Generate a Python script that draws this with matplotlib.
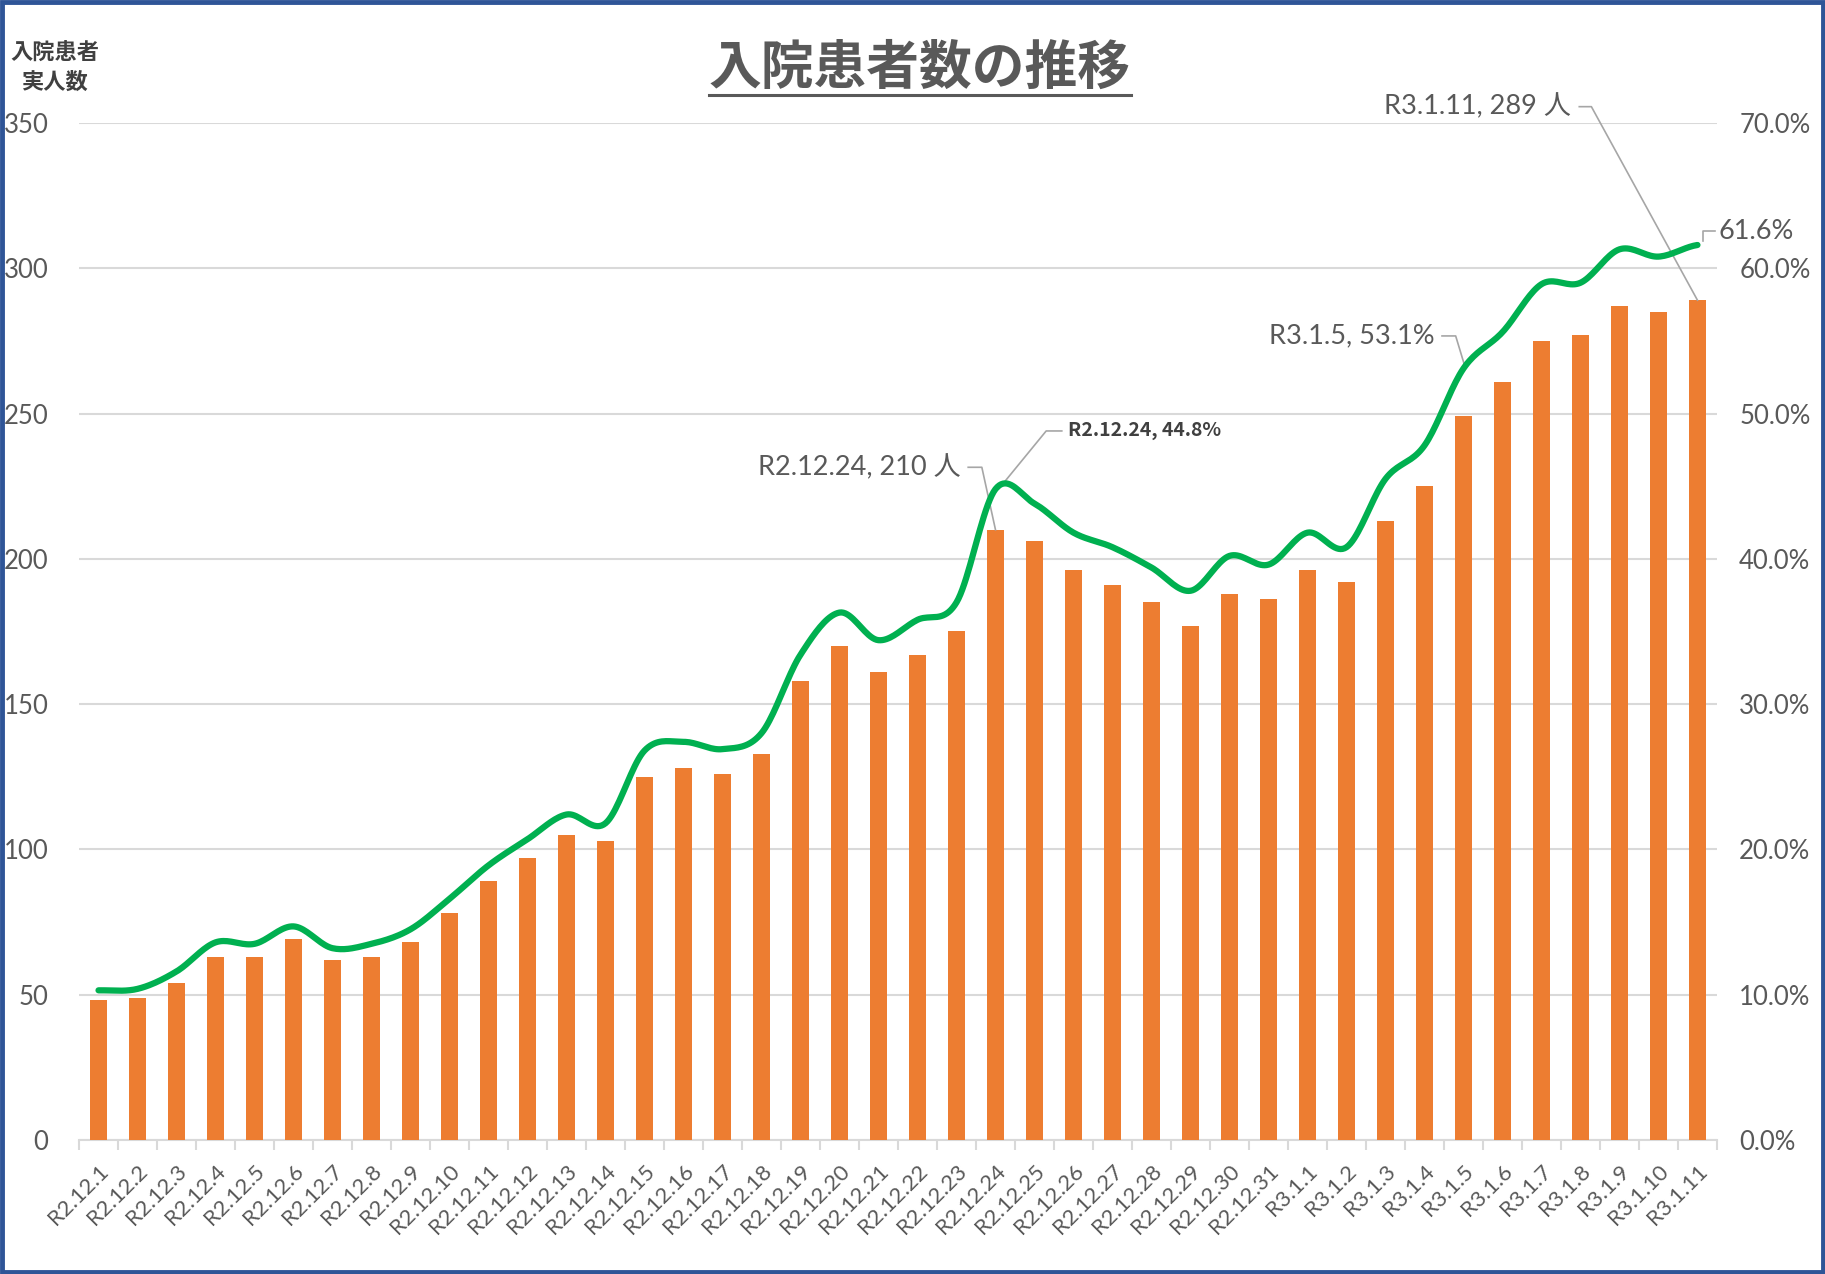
import numpy as np
import matplotlib
matplotlib.use("Agg")
import matplotlib.pyplot as plt
from matplotlib.ticker import PercentFormatter
from matplotlib.patches import Rectangle
from matplotlib.lines import Line2D

# data
dates = ["R2.12.%d" % d for d in range(1, 32)] + ["R3.1.%d" % d for d in range(1, 12)]
patients = [48, 49, 54, 63, 63, 69, 62, 63, 68, 78, 89, 97, 105, 103,
            125, 128, 126, 133, 158, 170, 161, 167, 175, 210, 206, 196, 191,
            185, 177, 188, 186, 196, 192, 213, 225, 249, 261, 275, 277, 287,
            285, 289]
rate = [10.3, 10.4, 11.6, 13.6, 13.5, 14.7, 13.2, 13.5, 14.5, 16.6, 18.9,
        20.7, 22.4, 21.8, 26.8, 27.4, 26.9, 28.0, 33.4, 36.3, 34.4, 35.8,
        37.0, 44.8, 43.8, 41.8, 40.8, 39.4, 37.8, 40.2, 39.6, 41.8, 40.8,
        45.5, 47.8, 53.1, 55.6, 58.9, 59.0, 61.3, 60.8, 61.6]

GRAY = "#595959"
LEADER = "#A6A6A6"
LATIN = ["Lato", "Noto Sans CJK JP"]
CJK = ["Noto Sans CJK JP", "DejaVu Sans"]


def smooth(y, n=20):
    # excel-like smoothed line (bezier through every point)
    y = np.asarray(y, dtype=float)
    xs, ys = [], []
    for i in range(len(y) - 1):
        p0 = y[max(i - 1, 0)]
        p1 = y[i]
        p2 = y[i + 1]
        p3 = y[min(i + 2, len(y) - 1)]
        c1 = p1 + (p2 - p0) / 6
        c2 = p2 - (p3 - p1) / 6
        t = np.linspace(0, 1, n, endpoint=False)
        b = (1 - t) ** 3 * p1 + 3 * (1 - t) ** 2 * t * c1 + 3 * (1 - t) * t ** 2 * c2 + t ** 3 * p2
        xs.append(i + t)
        ys.append(b)
    xs.append([len(y) - 1])
    ys.append([y[-1]])
    return np.concatenate(xs), np.concatenate(ys)


fig = plt.figure(figsize=(18.25, 12.74), dpi=100)
ax = fig.add_axes([0.0433, 0.1052, 0.8975, 0.7983])
ax2 = ax.twinx()

x = np.arange(len(dates))
ax.bar(x, patients, width=0.45, color="#ED7D31", zorder=3)

ax.set_xlim(-0.5, len(dates) - 0.5)
ax.set_ylim(0, 350)
ax.set_yticks(range(0, 351, 50))
ax.grid(axis="y", color="#D9D9D9", lw=1.5, zorder=0)
ax.set_axisbelow(True)
for s in ["top", "left", "right"]:
    ax.spines[s].set_visible(False)
    ax2.spines[s].set_visible(False)
ax.spines["bottom"].set_color("#D9D9D9")
ax.spines["bottom"].set_linewidth(1.5)
ax2.spines["bottom"].set_visible(False)

ax.set_xticks(x)
ax.set_xticklabels(dates, rotation=45, ha="right", rotation_mode="anchor",
                   fontsize=16, color=GRAY, family=LATIN)
ax.set_xticks(np.arange(-0.5, len(dates), 1), minor=True)
ax.tick_params(axis="x", which="major", length=0, pad=15)
ax.tick_params(axis="x", which="minor", length=7, color="#D9D9D9", width=1.5)
ax.tick_params(axis="y", length=0, pad=22, labelsize=18.5, labelcolor=GRAY)
for lab in ax.get_yticklabels():
    lab.set_family(LATIN)

ax2.set_ylim(0, 70)
ax2.set_yticks(range(0, 71, 10))
ax2.yaxis.set_major_formatter(PercentFormatter(decimals=1))
ax2.tick_params(axis="y", length=0, pad=16, labelsize=18.5, labelcolor=GRAY)
for lab in ax2.get_yticklabels():
    lab.set_family(LATIN)

sx, sy = smooth(rate)
ax2.plot(sx, sy, color="#00B050", lw=4.5, solid_capstyle="round", zorder=4, clip_on=False)

# data labels with leader lines (in left-axis units)
def leader(pts):
    xs_, ys_ = zip(*pts)
    ax.plot(xs_, ys_, color=LEADER, lw=1.2, zorder=5, clip_on=False)

i24 = dates.index("R2.12.24")
i5 = dates.index("R3.1.5")
il = len(dates) - 1

ax.text(22.1, 231.5, "%s, %d 人" % (dates[i24], patients[i24]), ha="right", va="center",
        fontsize=19.5, color=GRAY, family=LATIN)
leader([(22.3, 231.5), (22.65, 231.5), (i24, patients[i24])])

ax.text(24.85, 244, "%s, %.1f%%" % (dates[i24], rate[i24]), ha="left", va="center",
        fontsize=14, color="#404040", family=CJK, weight="bold")
leader([(24.7, 244), (24.3, 244), (i24 + 0.08, rate[i24] * 5)])

ax.text(34.25, 276.7, "%s, %.1f%%" % (dates[i5], rate[i5]), ha="right", va="center",
        fontsize=19.5, color=GRAY, family=LATIN)
leader([(34.45, 276.7), (34.8, 276.7), (i5 + 0.03, rate[i5] * 5 + 1)])

ax.text(37.77, 355.6, "%s, %d 人" % (dates[il], patients[il]), ha="right", va="center",
        fontsize=19.5, color=GRAY, family=LATIN)
leader([(37.97, 355.6), (38.28, 355.6), (il, patients[il])])

ax.text(41.55, 312.8, "%.1f%%" % rate[il], ha="left", va="center",
        fontsize=19.5, color=GRAY, family=LATIN)
leader([(41.45, 312.8), (41.15, 312.8), (41.15, rate[il] * 5 + 1.5)])

# axis caption and title
fig.text(0.030, 0.947, "入院患者\n実人数", ha="center", va="center", fontsize=16,
         color="#404040", family=CJK, weight="bold", linespacing=1.35)
title = fig.text(0.504, 0.946, "入院患者数の推移", ha="center", va="center",
                 fontsize=38, color=GRAY, family=CJK, weight="bold")

fig.canvas.draw()
bb = title.get_window_extent().transformed(fig.transFigure.inverted())
fig.add_artist(Line2D([bb.x0, bb.x1], [bb.y0, bb.y0], color=GRAY, lw=2.2,
                      transform=fig.transFigure))

fig.add_artist(Rectangle((0.001, 0.0015), 0.998, 0.997, transform=fig.transFigure,
                         fill=False, edgecolor="#2F5597", lw=3.5))

fig.savefig("out.png", dpi=100)
